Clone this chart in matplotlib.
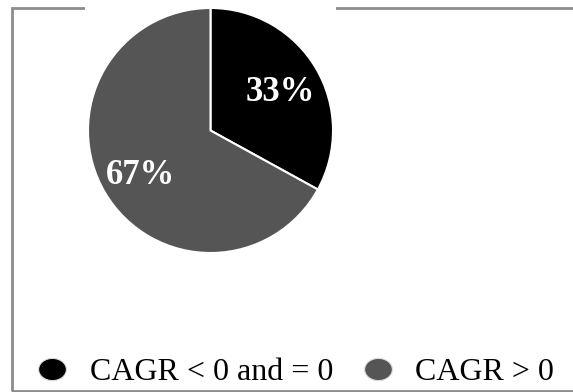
import matplotlib
matplotlib.use('Agg')
import matplotlib.pyplot as plt
from matplotlib.lines import Line2D
from matplotlib.patches import Rectangle
from matplotlib.path import Path
from matplotlib.transforms import Affine2D

plt.rcParams['font.family'] = ['Liberation Serif', 'DejaVu Serif']

# ── data ──────────────────────────────────────────────
labels = ['CAGR < 0 and = 0', 'CAGR > 0']
shares = [33, 67]
colors = ['#000000', '#555555']

W, H = 573, 392
fig = plt.figure(figsize=(W / 100, H / 100), dpi=100)

# outer frame (open on the right, partly hidden by the pie box)
frame = Rectangle((12 / W, 1 / H), 1.2, 1 - 9 / H, transform=fig.transFigure,
                  fill=False, edgecolor='#8c8c8c', linewidth=2, zorder=-5)
fig.patches.append(frame)

# pie axes with white background covering the frame
box = 251
cx, cy = 210.5, 130.5
ax = fig.add_axes([(cx - box / 2) / W, 1 - (cy + box / 2) / H, box / W, box / H],
                  zorder=2)
wedges, _, autotexts = ax.pie(
    shares, colors=colors, startangle=90, counterclock=False,
    radius=245 / box, autopct='%.0f%%', pctdistance=0.665,
    wedgeprops=dict(edgecolor='white', linewidth=1.5),
    textprops=dict(color='white', fontsize=25, fontweight='bold'))
for t in autotexts:
    x, y = t.get_position()
    t.set_position((x, y - 0.03))
ax.set_xlim(-1, 1)
ax.set_ylim(-1, 1)
ax.set_aspect('equal')
ax.set_frame_on(True)
ax.set_facecolor('white')
for s in ax.spines.values():
    s.set_visible(False)

# legend
oval = Path.unit_circle().transformed(Affine2D().scale(1.0, 0.8))
handles = [Line2D([0], [0], marker=oval, linestyle='', markersize=20,
                  markerfacecolor=c, markeredgecolor='#dddddd', markeredgewidth=0.8)
           for c in colors]
fig.legend(handles, labels, ncol=2, loc='center left',
           bbox_to_anchor=(36.5 / W, 1 - 372 / H), frameon=False,
           fontsize=23, handletextpad=0.67, columnspacing=0.9,
           handlelength=1.0, borderpad=0, borderaxespad=0)

fig.savefig('out.png', dpi=100)
